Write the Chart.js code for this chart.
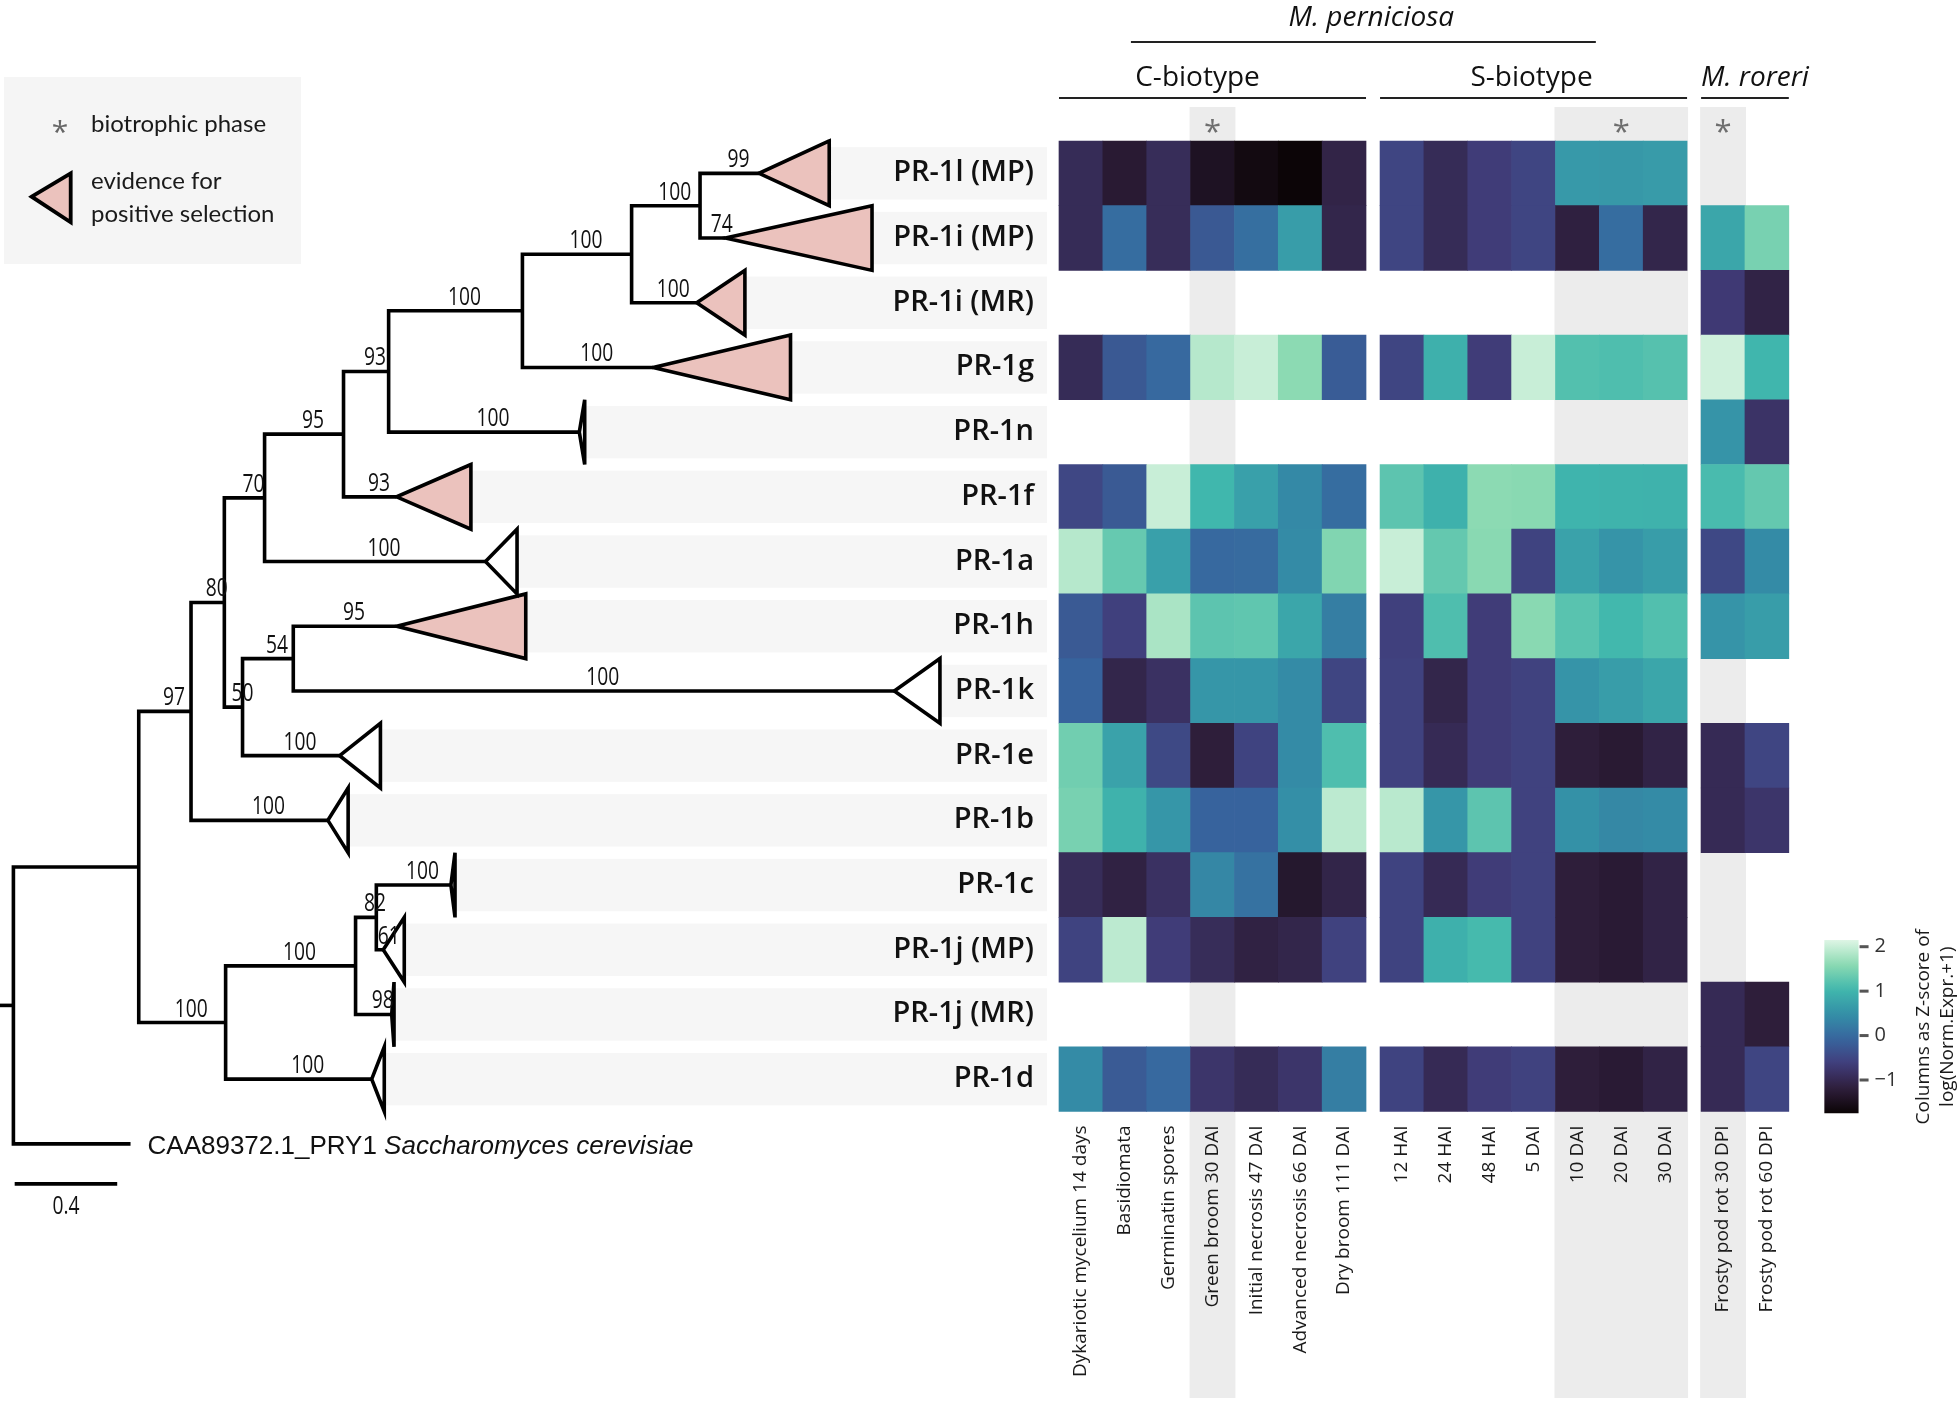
<!DOCTYPE html>
<html><head><meta charset="utf-8">
<script src="https://cdn.jsdelivr.net/npm/chart.js@4.4.1/dist/chart.umd.min.js"></script>
<style>html,body{margin:0;padding:0;background:#fff;}canvas{display:block;}</style>
</head><body>
<canvas id="c" width="1959" height="1402"></canvas>
<script>
// ---------------- DATA ----------------
const tipNames = ['PR-1l (MP)','PR-1i (MP)','PR-1i (MR)','PR-1g','PR-1n','PR-1f','PR-1a','PR-1h','PR-1k','PR-1e','PR-1b','PR-1c','PR-1j (MP)','PR-1j (MR)','PR-1d'];
const outgroupName = 'CAA89372.1_PRY1';
const outgroupSpecies = 'Saccharomyces cerevisiae';

// tree topology (parents listed before children), branch lengths (subst./site) and bootstrap support
const nodeIds = ['root','ingroup','n97','n80','n70','n95','n93','n100a','n100b','n100c','n50','n54','n100d','n100e','n82',
  'PR-1l (MP)','PR-1i (MP)','PR-1i (MR)','PR-1g','PR-1n','PR-1f','PR-1a','PR-1h','PR-1k','PR-1e','PR-1b','PR-1c','PR-1j (MP)','PR-1j (MR)','PR-1d','CAA89372.1_PRY1'];
const nodeParents = [null,'root','ingroup','n97','n80','n70','n95','n93','n100a','n100b','n80','n50','ingroup','n100d','n100e',
  'n100c','n100c','n100b','n100a','n93','n95','n70','n54','n54','n50','n97','n82','n82','n100e','n100d','root'];
const branchLengths = [0,0.489,0.204,0.130,0.157,0.308,0.176,0.522,0.426,0.267,0.071,0.198,0.339,0.507,0.081,
  0.230,0.099,0.254,0.510,0.744,0.207,0.862,0.403,2.345,0.379,0.534,0.291,0.027,0.141,0.570,0.457];
const supportValues = [null,null,97,80,70,95,93,100,100,100,50,54,100,100,82,
  99,74,100,100,100,93,100,95,100,100,100,100,61,98,100,null];
// collapsed clade depth per tip (tipNames order) and evidence for positive selection
const cladeDepths = [0.274,0.572,0.188,0.536,0.021,0.290,0.123,0.504,0.178,0.159,0.079,0.016,0.082,0.009,0.049];
const positiveSelection = [true,true,true,true,false,true,false,true,false,false,false,false,false,false,false];
const scaleBarLength = 0.4;

// heatmap columns
const cColumns = ['Dykariotic mycelium 14 days','Basidiomata','Germinatin spores','Green broom 30 DAI','Initial necrosis 47 DAI','Advanced necrosis 66 DAI','Dry broom 111 DAI'];
const sColumns = ['12 HAI','24 HAI','48 HAI','5 DAI','10 DAI','20 DAI','30 DAI'];
const mrColumns = ['Frosty pod rot 30 DPI','Frosty pod rot 60 DPI'];
const biotrophicC = [3], biotrophicS = [4,5,6], biotrophicMR = [0];

// Z-scores, rows in tipNames order (null = gene absent)
const cValues = [
  [-0.95,-1.28,-0.93,-1.44,-1.63,-1.73,-1.09],
  [-0.95, 0.03,-0.93,-0.25, 0.05, 0.68,-1.05],
  null,
  [-0.95,-0.25,-0.03, 1.88, 2.00, 1.60,-0.20],
  null,
  [-0.50,-0.23, 2.00, 1.03, 0.72, 0.40, 0.03],
  [ 1.88, 1.32, 0.72,-0.02, 0.00, 0.42, 1.52],
  [-0.23,-0.60, 1.80, 1.25, 1.27, 0.80, 0.25],
  [-0.10,-1.05,-0.85, 0.58, 0.58, 0.42,-0.53],
  [ 1.40, 0.75,-0.47,-1.20,-0.55, 0.43, 1.15],
  [ 1.45, 0.97, 0.58,-0.10,-0.10, 0.48, 1.92],
  [-0.93,-1.12,-0.85, 0.37, 0.10,-1.33,-1.07],
  [-0.55, 1.92,-0.66,-0.93,-1.12,-1.05,-0.57],
  null,
  [ 0.42,-0.22,-0.02,-0.78,-0.95,-0.78, 0.25]
];
const sValues = [
  [-0.53,-0.95,-0.66,-0.53, 0.62, 0.60, 0.65],
  [-0.53,-0.95,-0.66,-0.53,-1.15, 0.03,-1.05],
  null,
  [-0.53, 0.94,-0.66, 2.00, 1.18, 1.15, 1.20],
  null,
  [ 1.25, 0.95, 1.60, 1.58, 1.00, 0.98, 0.97],
  [ 2.00, 1.30, 1.58,-0.55, 0.75, 0.55, 0.68],
  [-0.60, 1.15,-0.66, 1.58, 1.22, 1.05, 1.17],
  [-0.57,-1.05,-0.66,-0.57, 0.55, 0.68, 0.80],
  [-0.57,-0.97,-0.66,-0.57,-1.20,-1.28,-1.10],
  [ 1.90, 0.58, 1.25,-0.57, 0.50, 0.38, 0.42],
  [-0.55,-0.97,-0.66,-0.57,-1.20,-1.27,-1.10],
  [-0.55, 0.94, 1.08,-0.57,-1.20,-1.27,-1.10],
  null,
  [-0.55,-0.97,-0.66,-0.57,-1.20,-1.27,-1.10]
];
const mrValues = [
  null,
  [ 0.80, 1.45],
  [-0.70,-1.10],
  [ 2.05, 1.02],
  [ 0.55,-0.82],
  [ 1.10, 1.30],
  [-0.48, 0.42],
  [ 0.55, 0.68],
  null,
  [-0.97,-0.53],
  [-0.97,-0.78],
  null,
  null,
  [-0.97,-1.20],
  [-0.97,-0.53]
];
const colorbarTicks = [-1,0,1,2];
const zMin = -1.75, zMax = 2.15;

// ---------------- COLOUR MAP (mako) ----------------
const makoStops = [[0,[11,4,5]],[1/7,[46,30,59]],[2/7,[65,61,123]],[3/7,[55,101,158]],[4/7,[52,143,167]],[5/7,[64,183,173]],[6/7,[139,218,178]],[1,[222,245,229]]];
function makoT(t){
  t = Math.max(0, Math.min(1, t));
  for (let k = 1; k < makoStops.length; k++) {
    if (t <= makoStops[k][0]) {
      const [t0,c0] = makoStops[k-1], [t1,c1] = makoStops[k];
      const f = (t - t0) / (t1 - t0);
      return 'rgb(' + c0.map((c,j) => Math.round(c + (c1[j]-c)*f)).join(',') + ')';
    }
  }
  return 'rgb(222,245,229)';
}
const mako = v => makoT((v - zMin) / (zMax - zMin));

// ---------------- TREE LAYOUT (from data) ----------------
const idx = Object.fromEntries(nodeIds.map((id,i) => [id,i]));
const nx = [], kids = nodeIds.map(() => []);
nodeIds.forEach((id,i) => {
  const p = nodeParents[i];
  nx[i] = p === null ? 0 : nx[idx[p]] + branchLengths[i];
  if (p !== null) kids[idx[p]].push(i);
});
const ny = [];
function yOf(i){
  if (ny[i] !== undefined) return ny[i];
  if (!kids[i].length) {
    const r = tipNames.indexOf(nodeIds[i]);
    ny[i] = r >= 0 ? r : tipNames.length;
  } else {
    ny[i] = kids[i].reduce((s,k) => s + yOf(k), 0) / kids[i].length;
  }
  return ny[i];
}
nodeIds.forEach((_,i) => yOf(i));

// ---------------- HEATMAP LAYOUT ----------------
const GAP = 0.32;
const groups = [
  {title:'C-biotype', cols:cColumns, vals:cValues, off:0, bio:biotrophicC, shift:-15},
  {title:'S-biotype', cols:sColumns, vals:sValues, off:7+GAP, bio:biotrophicS, shift:-2},
  {title:'M. roreri', cols:mrColumns, vals:mrValues, off:14+2*GAP, bio:biotrophicMR, italic:true, shift:0}
];
const cells = [];
groups.forEach(g => g.vals.forEach((row, r) => {
  if (!row) return;
  row.forEach((v, j) => cells.push({x: g.off + j, y: [r - 0.5, r + 0.5], v}));
}));
const cbX = 14 + 2*GAP + 2.7;

// ---------------- DATASETS ----------------
const datasets = [];
const lineBase = {type:'line', xAxisID:'xt', yAxisID:'y', borderColor:'#000', borderWidth:3.6, pointRadius:0, pointHoverRadius:0, tension:0, borderJoinStyle:'miter', borderCapStyle:'butt'};
// collapsed clades
tipNames.forEach((name, r) => {
  const i = idx[name], x0 = nx[i], d = cladeDepths[r];
  datasets.push(Object.assign({}, lineBase, {
    label: name + ' clade',
    data: [{x:x0,y:r},{x:x0+d,y:r-0.5},{x:x0+d,y:r+0.5},{x:x0,y:r},{x:x0+d,y:r-0.5}],
    fill: 'shape',
    backgroundColor: positiveSelection[r] ? '#ebc2bd' : '#ffffff'
  }));
});
// branches: one bracket per internal node
nodeIds.forEach((id, i) => {
  if (!kids[i].length) return;
  const ks = kids[i].slice().sort((a,b) => ny[a] - ny[b]);
  const a = ks[0], b = ks[ks.length-1];
  datasets.push(Object.assign({}, lineBase, {
    label: id, fill:false,
    data: [{x:nx[a],y:ny[a]},{x:nx[i],y:ny[a]},{x:nx[i],y:ny[b]},{x:nx[b],y:ny[b]}]
  }));
});
// root stub
datasets.push(Object.assign({}, lineBase, {label:'root', fill:false, data:[{x:-0.06,y:ny[0]},{x:0,y:ny[0]}]}));
// heatmap
datasets.push({type:'bar', label:'heatmap', xAxisID:'xh', yAxisID:'y', grouped:false, barPercentage:1, categoryPercentage:1,
  data: cells, borderWidth:0, backgroundColor: c => (c.raw && c.raw.v !== undefined) ? mako(c.raw.v) : '#ffffff'});
// colour bar
datasets.push({type:'bar', label:'colorbar', xAxisID:'xh', yAxisID:'yc', grouped:false, barPercentage:0.78, categoryPercentage:1,
  data: [{x:cbX, y:[zMin, zMax]}], borderWidth:0,
  backgroundColor: c => {
    const s = c.chart.scales.yc;
    if (!s) return '#3a7aa2';
    const y0 = s.getPixelForValue(zMin), y1 = s.getPixelForValue(zMax);
    if (!isFinite(y0) || !isFinite(y1) || y0 === y1) return '#3a7aa2';
    const g = c.chart.ctx.createLinearGradient(0, y0, 0, y1);
    for (let k = 0; k <= 20; k++) g.addColorStop(k/20, makoT(k/20));
    return g;
  }});

// ---------------- DECORATION / TEXT ----------------
function condensed(ctx, s, x, y, size, sx){
  ctx.save(); ctx.translate(x, y); ctx.scale(sx, 1);
  ctx.font = size + 'px "Open Sans"'; ctx.textAlign = 'center'; ctx.textBaseline = 'alphabetic';
  ctx.fillText(s, 0, 0); ctx.restore();
}
const decor = {
  id: 'decor',
  beforeDatasetsDraw(chart){
    const {ctx} = chart, s = chart.scales;
    const X = v => s.xt.getPixelForValue(v), H = v => s.xh.getPixelForValue(v), Y = v => s.y.getPixelForValue(v);
    ctx.save();
    ctx.fillStyle = '#f5f5f5'; ctx.fillRect(4, 77, 297, 187);
    ctx.fillStyle = '#ececec';
    const top = Y(-0.5) - 34, bottom = chart.height - 4;
    groups.forEach(g => {
      const x0 = H(g.off + Math.min(...g.bio) - 0.5) - 1, x1 = H(g.off + Math.max(...g.bio) + 0.5) + 1;
      ctx.fillRect(x0, top, x1 - x0, bottom - top);
    });
    ctx.fillStyle = '#f6f6f6';
    tipNames.forEach((name, r) => {
      const i = idx[name];
      const x0 = X(nx[i] + cladeDepths[r]) + 1, x1 = H(-0.5) - 12;
      const y0 = Y(r - 0.405), y1 = Y(r + 0.405);
      ctx.fillRect(x0, y0, x1 - x0, y1 - y0);
    });
    ctx.restore();
  },
  afterDatasetsDraw(chart){
    const {ctx} = chart, s = chart.scales;
    const X = v => s.xt.getPixelForValue(v), H = v => s.xh.getPixelForValue(v), Y = v => s.y.getPixelForValue(v), YC = v => s.yc.getPixelForValue(v);
    ctx.save();
    ctx.fillStyle = '#111'; ctx.font = '600 29px "Open Sans"'; ctx.textAlign = 'right'; ctx.textBaseline = 'alphabetic';
    tipNames.forEach((name, r) => ctx.fillText(name, H(-0.5) - 25, Y(r) + 8));
    nodeIds.forEach((id, i) => {
      if (supportValues[i] === null) return;
      const p = idx[nodeParents[i]];
      condensed(ctx, String(supportValues[i]), (X(nx[p]) + X(nx[i])) / 2 + 9, Y(ny[i]) - 6, 26, 0.74);
    });
    const og = idx[outgroupName];
    ctx.textAlign = 'left'; ctx.font = '26px "Liberation Sans"';
    const ox = X(nx[og]) + 17, oy = Y(ny[og]) + 10;
    ctx.fillText(outgroupName + ' ', ox, oy);
    const w = ctx.measureText(outgroupName + ' ').width;
    ctx.font = 'italic 26px "Liberation Sans"';
    ctx.fillText(outgroupSpecies, ox + w, oy);
    ctx.strokeStyle = '#000'; ctx.lineWidth = 3.6;
    const sby = Y(tipNames.length) + 40;
    ctx.beginPath(); ctx.moveTo(X(0.005), sby); ctx.lineTo(X(0.005 + scaleBarLength), sby); ctx.stroke();
    condensed(ctx, String(scaleBarLength), X(0.005 + scaleBarLength/2), sby + 30, 26, 0.74);

    const hTop = Y(-0.5);
    ctx.strokeStyle = '#222'; ctx.lineWidth = 2; ctx.fillStyle = '#111';
    groups.forEach(g => {
      const x0 = H(g.off - 0.5), x1 = H(g.off + g.cols.length - 0.5);
      ctx.beginPath(); ctx.moveTo(x0, hTop - 43); ctx.lineTo(x1, hTop - 43); ctx.stroke();
      ctx.font = (g.italic ? 'italic ' : '') + '28px "Open Sans"';
      if (g.italic) { ctx.textAlign = 'left'; ctx.fillText(g.title, x0, hTop - 55); }
      else { ctx.textAlign = 'center'; ctx.fillText(g.title, (x0 + x1) / 2 + g.shift, hTop - 55); }
    });
    const px0 = H(1.14), px1 = H(7 + GAP + 4.42);
    ctx.beginPath(); ctx.moveTo(px0, hTop - 99); ctx.lineTo(px1, hTop - 99); ctx.stroke();
    ctx.font = 'italic 28px "Open Sans"'; ctx.textAlign = 'center';
    ctx.fillText('M. perniciosa', (px0 + px1) / 2 + 8, hTop - 115);
    ctx.fillStyle = '#6e6e6e'; ctx.font = '31px "Open Sans"'; ctx.textAlign = 'center';
    groups.forEach(g => {
      const xc = H(g.off + (Math.min(...g.bio) + Math.max(...g.bio)) / 2);
      ctx.fillText('*', xc, hTop + 1);
    });
    ctx.fillStyle = '#1a1a1a'; ctx.font = '19px "Open Sans"';
    const labTop = Y(tipNames.length - 0.5) + 14;
    groups.forEach(g => g.cols.forEach((c, j) => {
      ctx.save(); ctx.translate(H(g.off + j), labTop); ctx.rotate(-Math.PI / 2);
      ctx.textAlign = 'right'; ctx.textBaseline = 'middle'; ctx.fillText(c, 0, 0); ctx.restore();
    }));
    const cbRight = H(cbX + 0.39);
    ctx.fillStyle = '#555';
    colorbarTicks.forEach(t => ctx.fillRect(cbRight + 1, YC(t) - 1.5, 9, 3));
    ctx.fillStyle = '#333'; ctx.font = '20px "Open Sans"'; ctx.textAlign = 'left'; ctx.textBaseline = 'middle';
    colorbarTicks.forEach(t => ctx.fillText(t < 0 ? '\u2212' + Math.abs(t) : String(t), cbRight + 16, YC(t)));
    ctx.fillStyle = '#1a1a1a'; ctx.font = '19px "Open Sans"';
    const cyMid = (YC(zMin) + YC(zMax)) / 2;
    [['Columns as Z-score of', cbRight + 65], ['log(Norm.Expr.+1)', cbRight + 89]].forEach(([t, x]) => {
      ctx.save(); ctx.translate(x, cyMid); ctx.rotate(-Math.PI / 2);
      ctx.textAlign = 'center'; ctx.textBaseline = 'middle'; ctx.fillText(t, 0, 0); ctx.restore();
    });

    ctx.textBaseline = 'alphabetic';
    ctx.fillStyle = '#666'; ctx.font = '30px "Open Sans"'; ctx.textAlign = 'center';
    ctx.fillText('*', 60, 142);
    ctx.beginPath(); ctx.moveTo(31.7, 196.7); ctx.lineTo(70.7, 173.3); ctx.lineTo(70.7, 222.3); ctx.closePath();
    ctx.fillStyle = '#ebc2bd'; ctx.fill();
    ctx.lineJoin = 'miter'; ctx.strokeStyle = '#000'; ctx.lineWidth = 3.8; ctx.stroke();
    ctx.fillStyle = '#1a1a1a'; ctx.font = '24px Lato'; ctx.textAlign = 'left';
    ctx.fillText('biotrophic phase', 91, 132);
    ctx.fillText('evidence for', 91, 189);
    ctx.fillText('positive selection', 91, 222);
    ctx.restore();
  }
};

// ---------------- CHART ----------------
new Chart(document.getElementById('c'), {
  type: 'bar',
  data: {datasets},
  options: {
    responsive: false, animation: false, devicePixelRatio: 1, events: [],
    layout: {padding: 0},
    plugins: {legend: {display: false}, tooltip: {enabled: false}},
    scales: {
      xt: {type:'linear', axis:'x', display:false, min:-0.0523, max:7.591, offset:false},
      xh: {type:'linear', axis:'x', display:false, min:-24.645, max:20.02, offset:false, ticks:{stepSize:1, includeBounds:false}},
      y:  {type:'linear', axis:'y', display:false, reverse:true, min:-2.679, max:18.99, beginAtZero:false},
      yc: {type:'linear', axis:'y', display:false, min:-8.247, max:23.307, beginAtZero:false}
    }
  },
  plugins: [decor]
});
</script>
</body></html>
